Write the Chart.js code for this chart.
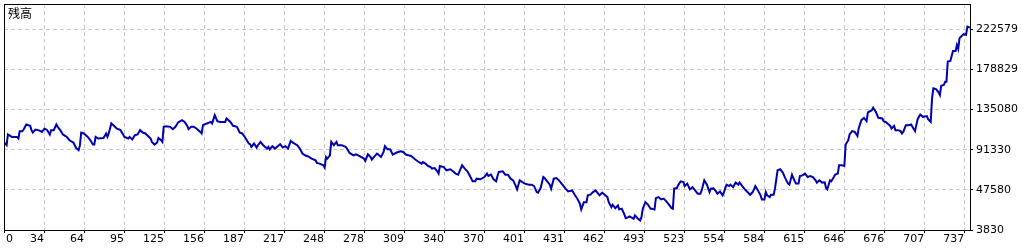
<!DOCTYPE html>
<html>
<head>
<meta charset="utf-8">
<script src="https://cdn.jsdelivr.net/npm/chart.js@4.4.1/dist/chart.umd.min.js"></script>
<style>
  html, body { margin: 0; padding: 0; background: #fff; }
</style>
</head>
<body>
<canvas id="balance-chart" width="1025" height="250"></canvas>
<script>
const TITLE = "残高";

// 取引番号
const trades = [
  0, 2, 3, 6, 10, 11, 12, 14, 15, 17, 20, 21, 22, 24, 26, 28, 29, 31, 33, 35,
  36, 38, 40, 41, 43, 45, 48, 50, 53, 55, 57, 58, 59, 61, 64, 66, 68, 69, 70, 72,
  76, 78, 79, 80, 82, 84, 86, 89, 91, 92, 95, 96, 98, 100, 102, 104, 106, 108, 110, 112,
  113, 115, 117, 118, 120, 121, 122, 124, 127, 129, 131, 133, 136, 138, 140, 141, 143, 145, 147, 150,
  151, 152, 155, 158, 159, 161, 163, 165, 169, 170, 173, 175, 178, 180, 182, 184, 187, 188, 189, 191,
  193, 194, 196, 198, 201, 202, 203, 205, 207, 210, 211, 213, 215, 217, 219, 221, 224, 226, 228, 230,
  233, 235, 238, 239, 241, 244, 245, 246, 247, 249, 250, 252, 254, 255, 258, 261, 262, 264, 267, 269,
  272, 275, 276, 278, 280, 281, 283, 285, 288, 290, 291, 293, 295, 297, 300, 303, 305, 307, 309, 311,
  314, 316, 319, 320, 322, 324, 326, 327, 329, 331, 332, 333, 336, 338, 341, 343, 345, 347, 348, 350,
  352, 354, 356, 358, 360, 361, 364, 367, 369, 370, 372, 374, 376, 377, 378, 381, 383, 385, 387, 389,
  391, 392, 394, 396, 398, 401, 403, 405, 407, 408, 410, 412, 413, 415, 417, 418, 420, 422, 424, 426,
  429, 431, 434, 436, 438, 440, 441, 443, 445, 446, 448, 450, 452, 453, 455, 457, 458, 461, 462, 464,
  465, 467, 469, 470, 472, 474, 475, 477, 478, 481, 482, 484, 486, 487, 488, 490, 492, 494, 495, 497,
  498, 500, 502, 504, 506, 508, 510, 511, 512, 514, 515, 517, 519, 520, 522, 524, 526, 528, 530, 532,
  533, 535, 537, 539, 540, 542, 544, 545, 547, 549, 550, 552, 554, 555, 557, 559, 561, 562, 564, 566,
  568, 570, 572, 574, 576, 578, 579, 581, 582, 583, 585, 586, 588, 589, 591, 593, 595, 597, 599, 600,
  602, 603, 605, 607, 608, 610, 612, 614, 616, 618, 620, 621, 623, 625, 627, 628, 629, 631, 632, 634,
  635, 637, 638, 640, 642, 643, 645, 646, 648, 650, 652, 653, 655, 657, 659, 660, 663, 664, 666, 668,
  671, 672, 674, 677, 678, 680, 681, 683, 685, 686, 687, 689, 691, 693, 694, 696, 698, 700, 702, 705,
  706, 708, 709, 710, 712, 714, 715, 716, 718, 719, 720, 721, 723, 725, 727, 728, 729, 730, 733, 735,
  736, 738
];

// 残高
const balances = [
  99500, 96300, 108000, 105300, 105300, 103600, 111600, 111600, 113400, 118900, 117400, 112700, 110100, 113400, 112700, 111600, 110800, 114500, 112700, 108000,
  112700, 112700, 118900, 116300, 112700, 108000, 105300, 101700, 99200, 93300, 90800, 96300, 110100, 109100, 105300, 101700, 97000, 97000, 105300, 103600,
  104200, 109100, 105300, 109100, 120000, 117400, 114500, 112700, 108000, 105300, 103600, 105300, 102500, 107200, 108000, 112700, 110100, 109100, 106400, 103600,
  99900, 97000, 99200, 104200, 101700, 99900, 116300, 117000, 116300, 113800, 116300, 121100, 123600, 121700, 117400, 113800, 116300, 116300, 114500, 110800,
  109100, 118100, 120000, 121700, 120000, 129100, 122500, 121700, 121700, 125500, 121700, 117400, 116300, 110100, 109100, 105300, 98100, 97400, 94400, 98100,
  93700, 96300, 99900, 96300, 92600, 94400, 91600, 95200, 92600, 96300, 97400, 93700, 95200, 92600, 101000, 98800, 96300, 92600, 87200, 85300,
  83500, 81700, 79900, 76900, 76200, 74400, 71900, 83500, 81700, 85300, 99900, 96300, 99900, 96300, 96300, 94400, 92600, 87800, 85300, 86400,
  84200, 81700, 79100, 86400, 83500, 80600, 84200, 87200, 83500, 88900, 95200, 91900, 91900, 86100, 88300, 89700, 88900, 86100, 85300, 84600,
  80900, 78800, 76200, 78000, 76200, 73600, 72500, 70800, 71400, 67800, 65300, 73600, 72500, 68900, 70000, 67800, 65300, 64200, 67800, 74400,
  70800, 67800, 62700, 56900, 56900, 59800, 59100, 61600, 65300, 62700, 64200, 59100, 56900, 62700, 67100, 67800, 64200, 64200, 59800, 58000,
  51700, 48100, 58000, 56100, 54400, 53300, 53300, 51700, 45200, 44500, 49600, 61600, 60500, 56900, 53300, 48900, 59800, 60500, 58000, 54400,
  48900, 45900, 47000, 42300, 38000, 32500, 26300, 34200, 34200, 41600, 42300, 45200, 47000, 45200, 41600, 44500, 43400, 39700, 34200, 28800,
  31400, 27700, 30600, 26300, 27000, 20500, 16700, 17800, 18600, 16100, 19700, 16700, 14200, 17800, 27000, 34200, 31400, 27000, 27000, 26300,
  38600, 39700, 37200, 38000, 35000, 31400, 27700, 27000, 48900, 49600, 52500, 56900, 56100, 51700, 54400, 48100, 50600, 47000, 43400, 43400,
  47000, 58000, 53300, 45200, 48900, 49200, 45900, 43400, 45900, 41600, 45200, 53300, 51700, 53300, 50600, 55500, 53300, 55500, 51700, 48100,
  45200, 42300, 45200, 51700, 47000, 41600, 37200, 37200, 45200, 41600, 39700, 42300, 42300, 48900, 68900, 70000, 66400, 59800, 54400, 53300,
  64200, 60500, 54400, 54400, 62700, 63400, 65300, 61600, 62700, 61600, 58000, 55500, 58000, 55500, 55800, 49600, 48100, 58000, 56900, 61600,
  64200, 65300, 74400, 74400, 73600, 97000, 101700, 108000, 111600, 110800, 106400, 114900, 123600, 126100, 122500, 132000, 134500, 137100, 132700, 126100,
  125500, 122500, 121100, 117400, 114500, 117400, 112700, 112700, 111600, 109100, 110800, 118100, 118100, 118900, 116300, 111600, 124700, 129800, 127200, 128000,
  124700, 121700, 147300, 158300, 157500, 153900, 150900, 161100, 161900, 165500, 165500, 187400, 188100, 199100, 199100, 205600, 201300, 213000, 217300, 216600,
  225600, 224600
];

const xTickLabels = ["0", "34", "64", "95", "125", "156", "187", "217", "248", "278", "309", "340", "370",
  "401", "431", "462", "493", "523", "554", "584", "615", "646", "676", "707", "737"];
const xTickStep = 30.565;
const xMax = 738;

const yTickLabels = ["3830", "47580", "91330", "135080", "178829", "222579"];
const yMin = 3830;
const yMax = 250250;

const AXIS_FONT = { family: "DejaVu Sans", size: 11 };

/* 枠線・タイトル・先頭ラベル */
const framePlugin = {
  id: "frame",
  afterDraw(chart) {
    const { ctx, chartArea: a } = chart;
    ctx.save();
    ctx.strokeStyle = "#000";
    ctx.lineWidth = 1;
    ctx.strokeRect(a.left + 0.5, a.top + 0.5, a.right - a.left, a.bottom - a.top);

    ctx.fillStyle = "#000";
    ctx.font = '12px "Noto Sans CJK JP"';
    ctx.textAlign = "left";
    ctx.textBaseline = "top";
    ctx.fillText(TITLE, a.left + 4, a.top + 3);

    ctx.font = '11px "DejaVu Sans"';
    ctx.textBaseline = "middle";
    ctx.fillText(xTickLabels[0], a.left + 2, a.bottom + 3 + 6.6);
    ctx.restore();
  }
};

new Chart(document.getElementById("balance-chart"), {
  type: "line",
  data: {
    datasets: [
      {
        label: TITLE,
        data: trades.map((t, i) => ({ x: t, y: balances[i] })),
        borderColor: "#0000b0",
        borderWidth: 2,
        pointRadius: 0,
        tension: 0,
        fill: false
      }
    ]
  },
  options: {
    responsive: false,
    animation: false,
    devicePixelRatio: 1,
    layout: { padding: { left: 4, top: 4, right: 0, bottom: 0 } },
    plugins: {
      legend: { display: false },
      tooltip: { enabled: false }
    },
    scales: {
      x: {
        type: "linear",
        min: 0,
        max: xMax,
        afterBuildTicks: s => { s.ticks = xTickLabels.map((_, i) => ({ value: i * xTickStep })); },
        afterFit: s => { s.height = 20; s.paddingLeft = 0; s.paddingRight = 0; },
        ticks: {
          autoSkip: false,
          maxRotation: 0,
          align: "end",
          padding: 0,
          color: "#000",
          font: AXIS_FONT,
          callback: (v, i) => (i === 0 ? "" : xTickLabels[i])
        },
        grid: { color: "#c8c8c8", tickColor: "#000", tickLength: 3 },
        border: { display: false, dash: [4, 3] }
      },
      y: {
        position: "right",
        min: yMin,
        max: yMax,
        afterBuildTicks: s => { s.ticks = yTickLabels.map(l => ({ value: Number(l) })); },
        afterFit: s => { s.width = 55; s.paddingTop = 0; s.paddingBottom = 0; },
        ticks: {
          padding: 3,
          color: "#000",
          font: AXIS_FONT,
          callback: (v, i) => yTickLabels[i]
        },
        grid: { color: "#c8c8c8", tickColor: "#000", tickLength: 3 },
        border: { display: false, dash: [4, 3] }
      }
    }
  },
  plugins: [framePlugin]
});
</script>
</body>
</html>
